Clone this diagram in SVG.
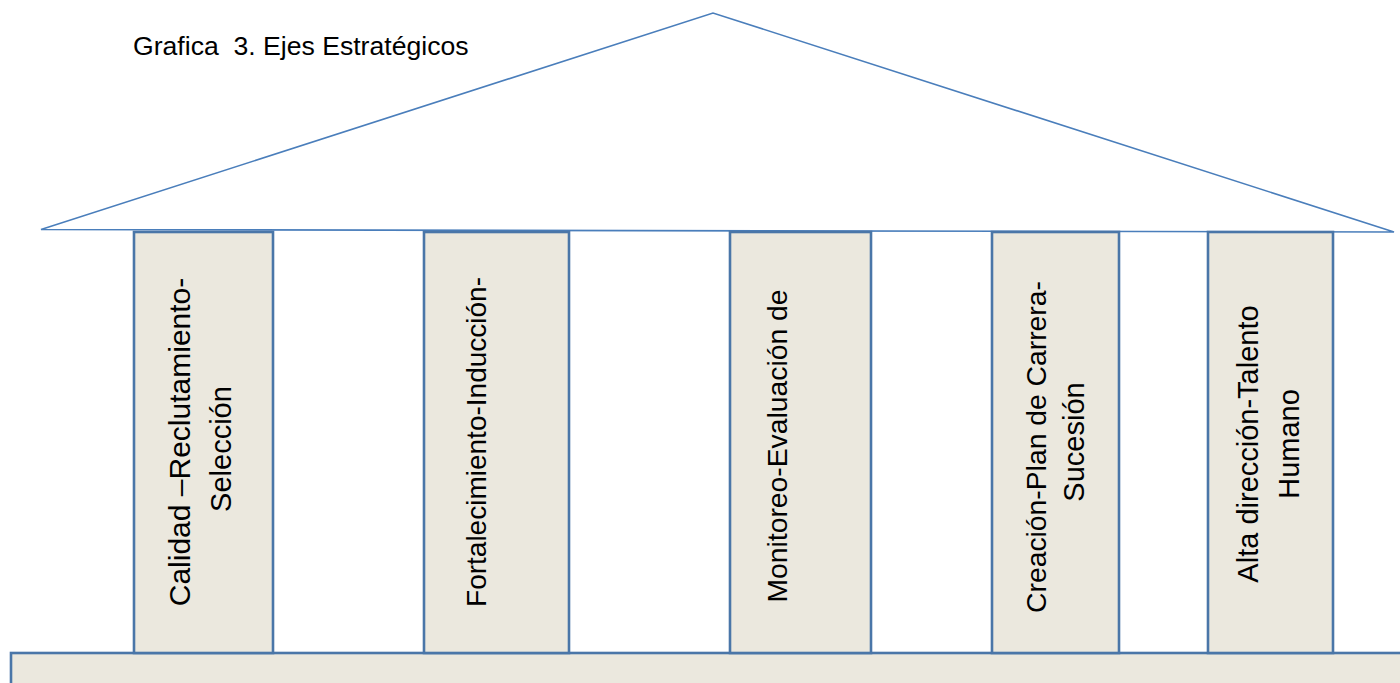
<svg xmlns="http://www.w3.org/2000/svg" width="1400" height="683" viewBox="0 0 1400 683">
  <style>
    .roof { fill: #ffffff; stroke: #4a7ebb; stroke-width: 1.6; stroke-linejoin: miter; }
    .pillar { fill: #ebe8de; stroke: #4a76a8; stroke-width: 2.6; }
    .label { font-family: "Liberation Sans", Arial, sans-serif; font-size: 29px; fill: #000000; text-anchor: middle; }
    .title { font-family: "Liberation Sans", Arial, sans-serif; font-size: 26.6px; fill: #000000; }
  </style>
  <rect width="1400" height="683" fill="#ffffff"/>

  <!-- roof -->
  <g id="roof">
    <polygon class="roof" points="41,229.5 713,13 1394,232"/>
  </g>

  <text class="title" x="133" y="55" xml:space="preserve">Grafica  3. Ejes Estratégicos</text>

  <!-- base -->
  <g id="base">
    <rect class="pillar" x="11" y="653" width="1400" height="40"/>
  </g>

  <!-- pillars -->
  <g id="pillar-calidad">
    <rect class="pillar" x="134" y="232" width="139" height="421"/>
    <text class="label" transform="translate(190,442) rotate(-90)" style="font-size:30px">Calidad –Reclutamiento-</text>
    <text class="label" transform="translate(231,449) rotate(-90)">Selección</text>
  </g>

  <g id="pillar-fortalecimiento">
    <rect class="pillar" x="424" y="232" width="145" height="421"/>
    <text class="label" transform="translate(486,442) rotate(-90)" style="font-size:28px">Fortalecimiento-Inducción-</text>
  </g>

  <g id="pillar-monitoreo">
    <rect class="pillar" x="730" y="232" width="141" height="421"/>
    <text class="label" transform="translate(787,446) rotate(-90)" style="font-size:28.3px">Monitoreo-Evaluación de</text>
  </g>

  <g id="pillar-creacion">
    <rect class="pillar" x="992" y="232" width="127" height="421"/>
    <text class="label" transform="translate(1046,447) rotate(-90)" style="font-size:28.3px">Creación-Plan de Carrera-</text>
    <text class="label" transform="translate(1084,442) rotate(-90)">Sucesión</text>
  </g>

  <g id="pillar-alta-direccion">
    <rect class="pillar" x="1208" y="232" width="125" height="421"/>
    <text class="label" transform="translate(1258,444) rotate(-90)">Alta dirección-Talento</text>
    <text class="label" transform="translate(1299,444) rotate(-90)">Humano</text>
  </g>
</svg>
